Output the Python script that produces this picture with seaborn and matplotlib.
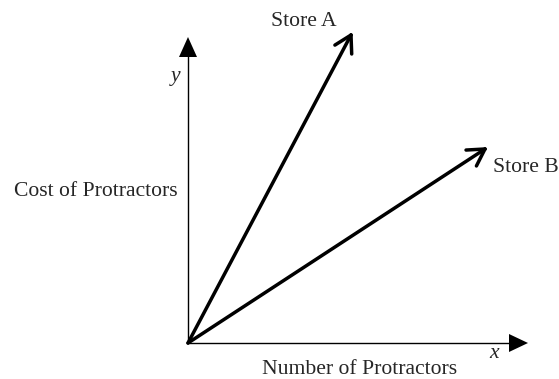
import numpy as np
import pandas as pd
import matplotlib.pyplot as plt
import seaborn as sns

# vector end points, measured from the origin (pixel-like units)
stores = ["Store A", "Store B"]
end_x = [163, 297]
end_y = [308, 194]

x_label = "Number of Protractors"
y_label = "Cost of Protractors"

sns.set_style("white")
plt.rcParams['font.family'] = ['Liberation Serif', 'DejaVu Serif']

rows = []
for s, ex, ey in zip(stores, end_x, end_y):
    rows.append({"store": s, "x": 0, "y": 0})
    rows.append({"store": s, "x": ex, "y": ey})
df = pd.DataFrame(rows)

fig = plt.figure(figsize=(5.59, 3.79), dpi=100)
ax = fig.add_axes([0, 0, 1, 1])
ax.set_xlim(-188, 371)
ax.set_ylim(-36, 343)
ax.axis('off')

# axes with filled arrow heads
ax.plot([0, 0], [0, 287], color='black', lw=1)
ax.plot([0, 322], [0, 0], color='black', lw=1)
ax.fill([-9, 9, 0], [286, 286, 306], color='black', lw=0)
ax.fill([321, 321, 340], [-9, 9, 0], color='black', lw=0)

sns.lineplot(data=df, x="x", y="y", units="store", estimator=None,
             color='black', lw=2.5, ax=ax, legend=False)

# open arrow heads at the tips
for ex, ey in zip(end_x, end_y):
    ang = np.arctan2(ey, ex)
    L = 19
    for d in (np.radians(30), -np.radians(30)):
        a = ang + np.pi + d
        ax.plot([ex, ex + L * np.cos(a)], [ey, ey + L * np.sin(a)],
                color='black', lw=2.5, solid_capstyle='round')

fs = 15.6
ax.text(end_x[0] - 47, 322, stores[0], ha='center', va='center', fontsize=fs)
ax.text(end_x[1] + 8, 176, stores[1], ha='left', va='center', fontsize=fs)
ax.text(-12, 267, "y", ha='center', va='center', fontsize=fs, style='italic')
ax.text(306, -11, "x", ha='center', va='center', fontsize=fs, style='italic')
ax.text(-92, 152, y_label, ha='center', va='center', fontsize=fs)
ax.text(172, -26.5, x_label, ha='center', va='center', fontsize=fs)

fig.savefig("out.png", dpi=100)
